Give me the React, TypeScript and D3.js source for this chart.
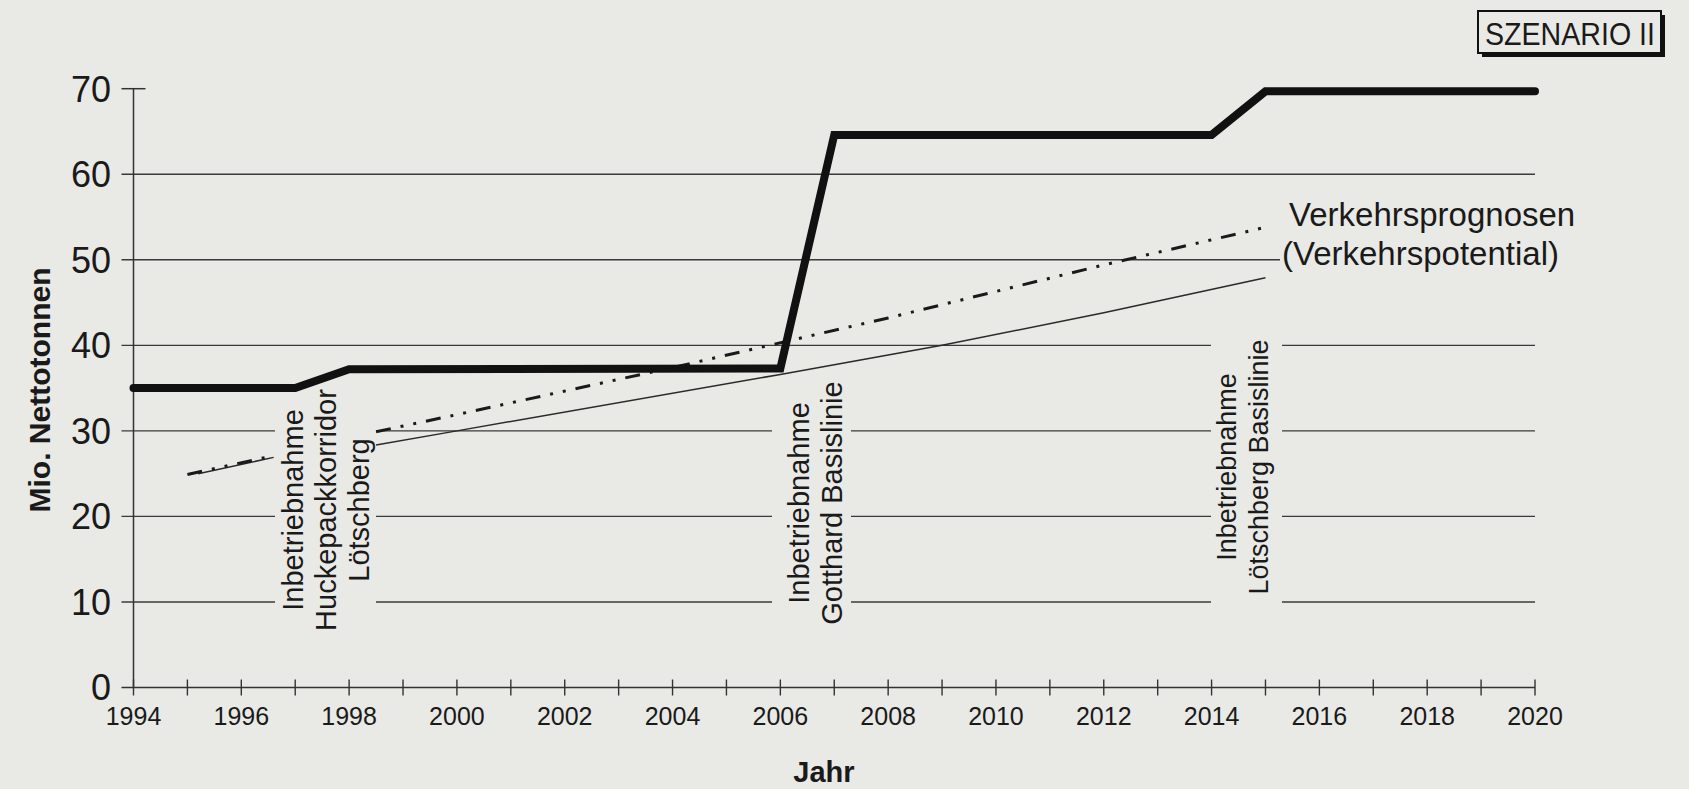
import React, { useEffect } from 'react';
import * as d3 from 'd3';

// ---- data ----
const xTickYears = [1994, 1995, 1996, 1997, 1998, 1999, 2000, 2001, 2002, 2003, 2004, 2005, 2006, 2007, 2008, 2009, 2010, 2011, 2012, 2013, 2014, 2015, 2016, 2017, 2018, 2019, 2020];
const xTickLabels = [1994, 1996, 1998, 2000, 2002, 2004, 2006, 2008, 2010, 2012, 2014, 2016, 2018, 2020];
const yTickValues = [0, 10, 20, 30, 40, 50, 60, 70];

const capacityYears = [1994, 1997, 1998, 2006, 2007, 2014, 2015, 2020];
const capacityValues = [35, 35, 37.2, 37.3, 64.6, 64.6, 69.7, 69.7];

const prognoseYearsA = [1995, 1996.6];
const prognoseValuesA = [24.9, 27.1];
const prognoseYearsB = [1998.5, 2000, 2004, 2008, 2012, 2015];
const prognoseValuesB = [29.9, 31.9, 37.4, 43.2, 49.4, 53.8];

const potentialYearsA = [1995.2, 1996.6];
const potentialValuesA = [25.0, 26.9];
const potentialYearsB = [1998.5, 2000, 2006, 2009, 2012, 2015];
const potentialValuesB = [28.35, 30.0, 36.6, 40.0, 43.8, 47.9];

const annotationLines = [
  ['Inbetriebnahme', 'Huckepackkorridor', 'Lötschberg'],
  ['Inbetriebnahme', 'Gotthard Basislinie'],
  ['Inbetriebnahme', 'Lötschberg Basislinie'],
];
const forecastLabel = ['Verkehrsprognosen', '(Verkehrspotential)'];
const scenarioLabel = 'SZENARIO II';
const yAxisTitle = 'Mio. Nettotonnen';
const xAxisTitle = 'Jahr';

// ---- layout ----
const W = 1689;
const H = 789;
const BG = '#e9e9e6';
const INK = '#1a1a1a';
const FONT = 'Arial, "Liberation Sans", Helvetica, sans-serif';

const x = d3.scaleLinear().domain([1994, 2020]).range([133.5, 1535]);
const y = d3.scaleLinear().domain([0, 70]).range([687.5, 88.7]);

const annotationLayout = [
  { baselines: [303, 336, 369], cy: 510, fontSize: 29, gap: [275, 376], gapValues: [10, 20, 30] },
  { baselines: [809, 842], cy: 503, fontSize: 29, gap: [772, 851], gapValues: [10, 20, 30] },
  { baselines: [1236, 1268], cy: 467, fontSize: 27, gap: [1211, 1282], gapValues: [10, 20, 30, 40] },
];

function pairs(xs: number[], ys: number[]): [number, number][] {
  return xs.map((v, i) => [v, ys[i]] as [number, number]);
}

export default function App() {
  useEffect(() => {
    document.body.style.margin = '0';
    document.body.style.background = BG;
  }, []);

  const line = d3
    .line<[number, number]>()
    .x((d) => x(d[0]))
    .y((d) => y(d[1]));

  const axisLeft = x(1994) - 12;
  const axisRight = x(2020);

  const gridSegments: { v: number; x1: number; x2: number }[] = [];
  [10, 20, 30, 40, 50, 60].forEach((v) => {
    let right = axisRight;
    if (v === 50) right = 1280;
    const gaps = annotationLayout
      .filter((a) => a.gapValues.includes(v))
      .map((a) => a.gap)
      .sort((a, b) => a[0] - b[0]);
    let start = axisLeft;
    gaps.forEach((g) => {
      gridSegments.push({ v, x1: start, x2: g[0] });
      start = g[1];
    });
    gridSegments.push({ v, x1: start, x2: right });
  });

  const y0 = y(0);

  return (
    <svg width={W} height={H} style={{ display: 'block', background: BG }} fontFamily={FONT}>
      <rect x={0} y={0} width={W} height={H} fill={BG} />

      {gridSegments.map((s, i) => (
        <line key={'g' + i} x1={s.x1} x2={s.x2} y1={y(s.v)} y2={y(s.v)} stroke="#3a3a3a" strokeWidth={1.4} />
      ))}

      <line x1={x(1994)} x2={x(1994)} y1={y(0)} y2={y(70)} stroke="#333" strokeWidth={1.5} />
      <line x1={axisLeft} x2={x(1994) + 12} y1={y(70)} y2={y(70)} stroke="#333" strokeWidth={1.5} />
      <line x1={axisLeft} x2={axisRight} y1={y0} y2={y0} stroke="#333" strokeWidth={1.6} />
      {xTickYears.map((t) => (
        <line key={'t' + t} x1={x(t)} x2={x(t)} y1={y0 - 8} y2={y0 + 8} stroke="#333" strokeWidth={1.4} />
      ))}

      {yTickValues.map((v) => (
        <text key={'yl' + v} x={111} y={y(v)} dy="0.36em" textAnchor="end" fontSize={36} fill={INK}>
          {v}
        </text>
      ))}
      {xTickLabels.map((t) => (
        <text key={'xl' + t} x={x(t)} y={725} textAnchor="middle" fontSize={25} fill={INK}>
          {t}
        </text>
      ))}

      <text x={824} y={782} textAnchor="middle" fontSize={29} fontWeight="bold" fill={INK}>
        {xAxisTitle}
      </text>
      <text transform={`translate(50,390) rotate(-90)`} textAnchor="middle" fontSize={30} fontWeight="bold" fill={INK}>
        {yAxisTitle}
      </text>

      <path d={line(pairs(potentialYearsA, potentialValuesA)) || ''} fill="none" stroke="#2a2a2a" strokeWidth={1.5} />
      <path d={line(pairs(potentialYearsB, potentialValuesB)) || ''} fill="none" stroke="#2a2a2a" strokeWidth={1.5} />
      <path d={line(pairs(prognoseYearsA, prognoseValuesA)) || ''} fill="none" stroke={INK} strokeWidth={3} strokeDasharray="15 10 3 10 3 10" />
      <path d={line(pairs(prognoseYearsB, prognoseValuesB)) || ''} fill="none" stroke={INK} strokeWidth={3} strokeDasharray="15 10 3 10 3 10" />

      <path
        d={line(pairs(capacityYears, capacityValues)) || ''}
        fill="none"
        stroke="#111"
        strokeWidth={8}
        strokeLinejoin="miter"
        strokeLinecap="round"
      />

      <text x={1289} y={226} fontSize={33} fill={INK}>
        {forecastLabel[0]}
      </text>
      <text x={1282} y={265} fontSize={33} fill={INK}>
        {forecastLabel[1]}
      </text>

      {annotationLines.map((lines, ai) =>
        lines.map((txt, li) => (
          <text
            key={'a' + ai + '-' + li}
            transform={`translate(${annotationLayout[ai].baselines[li]},${annotationLayout[ai].cy}) rotate(-90)`}
            textAnchor="middle"
            fontSize={annotationLayout[ai].fontSize}
            fill={INK}
          >
            {txt}
          </text>
        ))
      )}

      <rect x={1482} y={15} width={183} height={42} fill="#111" />
      <rect x={1478} y={11} width={183} height={42} fill={BG} stroke="#111" strokeWidth={2} />
      <text x={1570} y={45} textAnchor="middle" fontSize={31} textLength={170} lengthAdjust="spacingAndGlyphs" fill={INK}>
        {scenarioLabel}
      </text>
    </svg>
  );
}
